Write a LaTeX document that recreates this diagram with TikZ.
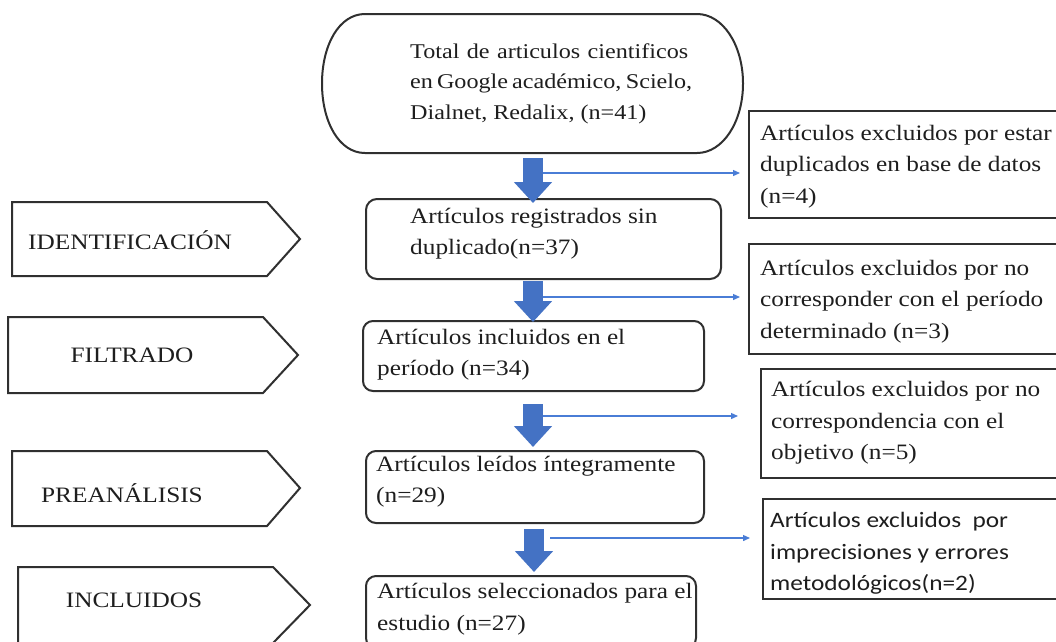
\documentclass[tikz,border=0pt]{standalone}
\usepackage{fontspec}
\setmainfont{Liberation Serif}[FakeStretch=1.15]
\newfontfamily\sansbox{Carlito}[FakeStretch=1.15]
\usetikzlibrary{arrows.meta,calc}
\definecolor{fatblue}{HTML}{4472C4}
\definecolor{thinblue}{HTML}{4A7DD6}
\definecolor{edge}{HTML}{303030}
\definecolor{ink}{HTML}{1E1E1E}
\tikzset{
  rbox/.style={draw=edge, line width=2pt, rounded corners=11pt, anchor=north west, inner sep=0pt},
  sbox/.style={draw=edge, line width=1.8pt, anchor=north west, inner sep=0pt},
  txt/.style={anchor=west, align=left, inner sep=0pt, text=ink},
  lbl/.style={anchor=center, inner sep=0pt, text=ink},
  fat/.style={draw=fatblue, line width=20pt, -{Triangle[width=37pt,length=21pt]}},
  thinarrow/.style={draw=thinblue, line width=1.3pt, -{Triangle[width=6pt,length=7pt]}},
  stage/.style={draw=edge, line width=2pt, line join=miter},
  outline/.style={draw=edge, line width=2pt}
}
\begin{document}
\begin{tikzpicture}[x=1pt, y=-1pt, font=\fontsize{22}{31.5}\selectfont]
\useasboundingbox (0,0) rectangle (1056,641);
\clip (0,0) rectangle (1056,641);
\fill[white] (0,0) rectangle (1056,641);

% top stadium
\draw[outline] (365,14) -- (697,14)
  .. controls (722.9,14) and (743,45.1) .. (743,83.5)
  .. controls (743,121.9) and (722.9,153) .. (697,153)
  -- (365,153)
  .. controls (339.1,153) and (322,121.9) .. (322,83.5)
  .. controls (322,45.1) and (339.1,14) .. (365,14) -- cycle;
\node[txt, font=\fontsize{21}{30.5}\selectfont] (top) at (410,83.5)
  {\makebox[278pt][s]{Total de articulos cientificos}\\
   \makebox[278pt][s]{en Google académico, Scielo,}\\
   Dialnet, Redalix, (n=41)};
\coordinate (topbottom) at (533,153);

% central boxes
\node[rbox, minimum width=355pt, minimum height=80pt] (b2) at (365,198) {};
\node[txt] (b2t) at (410,233.5) {Artículos registrados sin\\duplicado(n=37)};
\node[rbox, rounded corners=10pt, minimum width=341pt, minimum height=70pt] (b3) at (362,320) {};
\node[txt] (b3t) at (377,354.5) {Artículos incluidos en el\\período (n=34)};
\node[rbox, rounded corners=10pt, minimum width=338pt, minimum height=72pt] (b4) at (365,450) {};
\node[txt] (b4t) at (376,481.5) {Artículos leídos íntegramente\\(n=29)};
\node[rbox, rounded corners=10pt, minimum width=330pt, minimum height=72pt] (b5) at (365,575) {};
\node[txt] (b5t) at (377,609) {Artículos seleccionados para el\\estudio (n=27)};

% right boxes
\node[sbox, minimum width=320pt, minimum height=107pt] (r1) at (748,110) {};
\node[txt] (r1t) at (760,166.5) {Artículos excluidos por estar\\duplicados en base de datos\\(n=4)};
\node[sbox, minimum width=320pt, minimum height=110pt] (r2) at (748,243) {};
\node[txt] (r2t) at (760,301.5) {Artículos excluidos por no\\corresponder con el período\\determinado (n=3)};
\node[sbox, minimum width=310pt, minimum height=109pt] (r3) at (760,368) {};
\node[txt] (r3t) at (771,423) {Artículos excluidos por no\\correspondencia con el\\objetivo (n=5)};
\node[sbox, minimum width=310pt, minimum height=100pt] (r4) at (762,498) {};
\node[txt, font=\sansbox\fontsize{22}{31.5}\selectfont] (r4t) at (770,553.5) {Artículos excluidos\ \ por\\imprecisiones y errores\\metodológicos(n=2)};

% left stage arrows
\draw[stage] (12,202) -- (267,202) -- (300,239) -- (267,276) -- (12,276) -- cycle;
\node[lbl] (l1) at (130,240) {IDENTIFICACIÓN};
\draw[stage] (8,317) -- (263,317) -- (298,355) -- (263,393) -- (8,393) -- cycle;
\node[lbl] (l2) at (132,355) {FILTRADO};
\draw[stage] (12,451) -- (267,451) -- (300,488) -- (267,526) -- (12,526) -- cycle;
\node[lbl] (l3) at (122,493) {PREANÁLISIS};
\draw[stage] (18,567) -- (273,567) -- (310,605) -- (273,643) -- (18,643) -- cycle;
\node[lbl] (l4) at (134,600) {INCLUIDOS};

% fat arrows
\draw[fat] ($(topbottom)+(0,5)$) -- ($(topbottom |- b2.north)+(0,5)$);
\draw[fat] ($(topbottom |- b2.south)+(0,1)$) -- ($(topbottom |- b3.north)+(0,2)$);
\draw[fat] ($(topbottom |- b3.south)+(0,12)$) -- ($(topbottom |- b4.north)+(0,-3)$);
\draw[fat] ($(topbottom |- b4.south)+(1,5)$) -- ($(topbottom |- b5.north)+(1,-3)$);

% thin arrows to exclusion boxes
\coordinate (t1) at (543,173);
\coordinate (t2) at (543,297);
\coordinate (t3) at (543,416);
\coordinate (t4) at (550,538);
\draw[thinarrow, shorten >=8pt] (t1) -- (t1 -| r1.west);
\draw[thinarrow, shorten >=8pt] (t2) -- (t2 -| r2.west);
\draw[thinarrow, shorten >=22pt] (t3) -- (t3 -| r3.west);
\draw[thinarrow, shorten >=12pt] (t4) -- (t4 -| r4.west);
\end{tikzpicture}
\end{document}
